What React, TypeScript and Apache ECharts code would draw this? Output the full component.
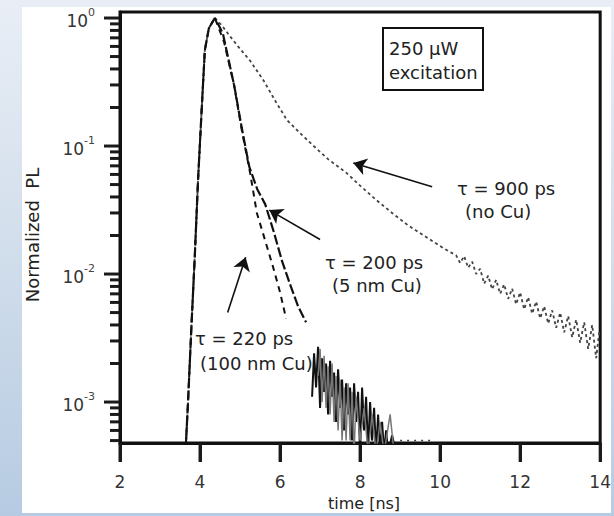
import React, { useEffect, useRef } from "react";
import * as echarts from "echarts";

// ---- data (time in ns, normalized PL) ----
const riseTime = [3.62, 3.7, 3.78, 3.87, 3.95, 4.04, 4.12, 4.22, 4.37];
const risePL = [0.00032, 0.001, 0.0036, 0.014, 0.054, 0.19, 0.56, 0.83, 1.0];

const noCuTime = [4.55, 4.75, 4.95, 5.26, 5.6, 5.9, 6.17, 6.5, 6.84, 7.2, 7.65, 8.0, 8.4, 8.8, 9.2, 9.7, 10.1,
  10.4, 10.5, 10.6, 10.7, 10.8, 10.9, 11.0, 11.1, 11.2, 11.3, 11.4, 11.5, 11.6, 11.7, 11.8, 11.9, 12.0, 12.1,
  12.2, 12.3, 12.4, 12.5, 12.6, 12.7, 12.8, 12.9, 13.0, 13.1, 13.2, 13.3, 13.4, 13.5, 13.6, 13.7, 13.8, 13.9, 13.98];
const noCuPL = [0.87, 0.72, 0.6, 0.46, 0.32, 0.22, 0.16, 0.126, 0.1, 0.079, 0.062, 0.049, 0.038, 0.03, 0.024, 0.019, 0.0158,
  0.014, 0.0122, 0.0138, 0.0112, 0.0125, 0.01, 0.011, 0.0084, 0.0097, 0.0076, 0.009, 0.007, 0.0083, 0.0064, 0.0077, 0.0058, 0.0072, 0.0053,
  0.0066, 0.0049, 0.0061, 0.0045, 0.0056, 0.0041, 0.0052, 0.0038, 0.005, 0.0035, 0.0047, 0.0032, 0.0044, 0.0029, 0.0042, 0.0026, 0.004, 0.0022, 0.0036];

const cu5Time = [4.57, 4.86, 5.04, 5.23, 5.43, 5.63, 5.85, 6.05, 6.25, 6.45, 6.65];
const cu5PL = [0.76, 0.29, 0.14, 0.069, 0.046, 0.035, 0.021, 0.0126, 0.0083, 0.0056, 0.0042];

const cu100Time = [4.6, 4.85, 5.05, 5.25, 5.42, 5.62, 5.82, 6.0, 6.15];
const cu100PL = [0.65, 0.3, 0.13, 0.062, 0.03, 0.0186, 0.0115, 0.0072, 0.0045];

const noiseATime = [6.8, 6.85, 6.9, 6.95, 7.0, 7.05, 7.1, 7.15, 7.2, 7.25, 7.3, 7.35, 7.4, 7.45, 7.5, 7.55, 7.6, 7.65, 7.7, 7.75,
  7.8, 7.85, 7.9, 7.95, 8.0, 8.05, 8.1, 8.15, 8.2, 8.25, 8.3, 8.35, 8.4, 8.45, 8.5, 8.55, 8.6, 8.65, 8.7, 8.8, 8.9];
const noiseAPL = [0.0011, 0.0024, 0.0013, 0.0027, 0.0009, 0.0022, 0.0012, 0.002, 0.0008, 0.0021, 0.0011, 0.0017, 0.0007, 0.0018, 0.0009,
  0.0015, 0.0006, 0.0014, 0.0008, 0.0013, 0.0005, 0.0014, 0.0007, 0.0012, 0.0004, 0.0013, 0.0006, 0.0011, 0.0004, 0.001, 0.0005,
  0.0009, 0.0004, 0.0008, 0.0004, 0.0007, 0.0004, 0.0006, 0.0004, 0.00055, 0.0004];

const noiseBTime = [6.95, 7.0, 7.05, 7.1, 7.15, 7.2, 7.25, 7.3, 7.35, 7.4, 7.45, 7.5, 7.55, 7.6, 7.65, 7.7, 7.75, 7.8, 7.85, 7.9,
  8.0, 8.1, 8.2, 8.3, 8.4, 8.5, 8.6, 8.75, 8.85];
const noiseBPL = [0.0016, 0.0026, 0.001, 0.0023, 0.0009, 0.0019, 0.0008, 0.002, 0.0007, 0.0016, 0.0006, 0.0015, 0.0005, 0.0013, 0.0005,
  0.0014, 0.0005, 0.0012, 0.0004, 0.0011, 0.0005, 0.0009, 0.0004, 0.0008, 0.0004, 0.0007, 0.0004, 0.0008, 0.0004];

const tailDotsTime = [9.0, 9.8];
const tailDotsPL = [0.0005, 0.0005];

// arrows: [tail, tip] as [time, PL]
const arrow900 = [[9.8, 0.048], [7.83, 0.0736]];
const arrow200 = [[7.0, 0.0186], [5.73, 0.0316]];
const arrow220 = [[4.69, 0.005], [5.14, 0.0135]];

const xTicks = [2, 4, 6, 8, 10, 12, 14];
const yDecades = [-3, -2, -1, 0];
const yMinorFactors = [2, 3, 4, 5, 6, 7, 8, 9];

const FONT = '"DejaVu Sans", "Liberation Sans", sans-serif';

const toPts = (ts: number[], vs: number[]) => ts.map((t, i) => [t, Math.log10(vs[i])]);
const arrowLine = (a: number[][]) => [
  { coord: [a[0][0], Math.log10(a[0][1])] },
  { coord: [a[1][0], Math.log10(a[1][1])] },
];

export default function App() {
  const ref = useRef<HTMLDivElement>(null);
  useEffect(() => {
    if (!ref.current) return;
    const chart = echarts.init(ref.current, null, { renderer: "svg" });
    const yMin = -3.32;
    const yMax = 0.047;
    const xMin = 2;
    const minor: number[] = [];
    for (let n = -4; n <= 0; n++) {
      for (const k of yMinorFactors) {
        const v = n + Math.log10(k);
        if (v >= yMin && v <= yMax) minor.push(v);
      }
    }
    const txt = (x: number, y: number, text: string) => ({
      type: "text", x, y,
      style: { text, fontSize: 18, fontFamily: FONT, fill: "#222", verticalAlign: "middle" },
    });
    const annotations: any[] = [
      { type: "rect", shape: { x: 383, y: 21, width: 100, height: 62 }, style: { fill: "#fff", stroke: "#111", lineWidth: 2 } },
      txt(389, 41, "250 µW"),
      txt(389, 65, "excitation"),
      txt(457, 181, "τ = 900 ps"),
      txt(465, 204, "(no Cu)"),
      txt(325, 255, "τ = 200 ps"),
      txt(332, 278, "(5 nm Cu)"),
      txt(195, 331, "τ = 220 ps"),
      txt(200, 356, "(100 nm Cu)"),
      {
        type: "text", x: 32, y: 228, rotation: Math.PI / 2,
        style: { text: "Normalized  PL", fontSize: 18, fontFamily: FONT, fill: "#222", align: "center", verticalAlign: "middle" },
      },
      {
        type: "text", x: 364, y: 496,
        style: { text: "time [ns]", fontSize: 16, fontFamily: FONT, fill: "#222", align: "center", verticalAlign: "middle" },
      },
    ];
    const option: any = {
      animation: false,
      grid: { left: 120, top: 5, right: 6, bottom: 70, show: true, borderColor: "#111", borderWidth: 3 },
      xAxis: {
        type: "value", min: xMin, max: 14, interval: 2,
        axisLine: { show: true, onZero: false, lineStyle: { color: "#111", width: 3 } },
        axisTick: { show: true, length: 19, lineStyle: { color: "#1a1a1a", width: 3 } },
        axisLabel: { show: true, margin: 30, fontSize: 17, fontFamily: FONT, color: "#333" },
        splitLine: { show: false },
      },
      yAxis: {
        type: "value", min: yMin, max: yMax,
        axisLine: { show: true, onZero: false, lineStyle: { color: "#111", width: 3 } },
        axisTick: { show: false },
        axisLabel: {
          show: true, margin: 25, customValues: yDecades,
          formatter: (v: number) => `{b|10}{s|${v}}`,
          rich: {
            b: { fontSize: 17, fontFamily: FONT, color: "#333", lineHeight: 22, verticalAlign: "bottom" },
            s: { fontSize: 11, fontFamily: FONT, color: "#444", lineHeight: 11, verticalAlign: "top" },
          },
        },
        splitLine: { show: false },
      },
      series: [
        {
          name: "no Cu", type: "line", symbol: "none",
          data: toPts(riseTime.concat(noCuTime), risePL.concat(noCuPL)),
          lineStyle: { color: "#444", width: 1.8, type: [3, 3] },
          markLine: {
            silent: true, symbol: ["none", "arrow"], symbolSize: 13,
            lineStyle: { color: "#111", width: 1.6, type: "solid" },
            label: { show: false },
            data: [arrowLine(arrow900), arrowLine(arrow200), arrowLine(arrow220)],
          },
        },
        {
          name: "5 nm Cu", type: "line", symbol: "none",
          data: toPts(riseTime.concat(cu5Time), risePL.concat(cu5PL)),
          lineStyle: { color: "#111", width: 2.2, type: [10, 3] },
        },
        {
          name: "100 nm Cu", type: "line", symbol: "none",
          data: toPts(riseTime.concat(cu100Time), risePL.concat(cu100PL)),
          lineStyle: { color: "#111", width: 2, type: [6, 5] },
        },
        {
          name: "noise A", type: "line", symbol: "none",
          data: toPts(noiseATime, noiseAPL),
          lineStyle: { color: "#111", width: 2 },
        },
        {
          name: "noise B", type: "line", symbol: "none",
          data: toPts(noiseBTime, noiseBPL),
          lineStyle: { color: "#777", width: 1.5 },
        },
        {
          name: "tail", type: "line", symbol: "none",
          data: toPts(tailDotsTime, tailDotsPL),
          lineStyle: { color: "#444", width: 1.5, type: [2, 5] },
        },
      ],
      graphic: annotations,
    };
    try {
      chart.setOption(option);
    } catch (e) {
      /* keep going so the ticks are still added */
    }

    // axis ticks placed through the chart's own scales
    const ticks: any[] = [];
    try {
      const yTick = (v: number, len: number) => {
        const p = chart.convertToPixel({ gridIndex: 0 }, [xMin, v]) as number[];
        ticks.push({
          type: "line",
          shape: { x1: p[0] - len, y1: p[1], x2: p[0], y2: p[1] },
          style: { stroke: "#1a1a1a", lineWidth: 3 },
        });
      };
      yDecades.forEach(v => yTick(v, 16));
      minor.forEach(v => yTick(v, 10));
      xTicks.forEach(t => {
        const p = chart.convertToPixel({ gridIndex: 0 }, [t, yMin]) as number[];
        ticks.push({
          type: "line",
          shape: { x1: p[0], y1: p[1], x2: p[0], y2: p[1] + 19 },
          style: { stroke: "#1a1a1a", lineWidth: 3 },
        });
      });
    } catch (e) {
      /* ignore */
    }
    try {
      chart.setOption({ graphic: annotations.concat(ticks) });
    } catch (e) {
      /* ignore */
    }
    return () => chart.dispose();
  }, []);

  return (
    <div
      style={{
        position: "absolute", left: 0, top: 0, width: 614, height: 516,
        background: "linear-gradient(to bottom, #e9eef6 0%, #d3dfec 45%, #b6cbe2 100%)",
      }}
    >
      <div style={{ position: "absolute", left: 22, top: 7, width: 589, height: 506, background: "#fff" }} />
      <div ref={ref} style={{ position: "absolute", left: 0, top: 7, width: 614, height: 506 }} />
    </div>
  );
}
